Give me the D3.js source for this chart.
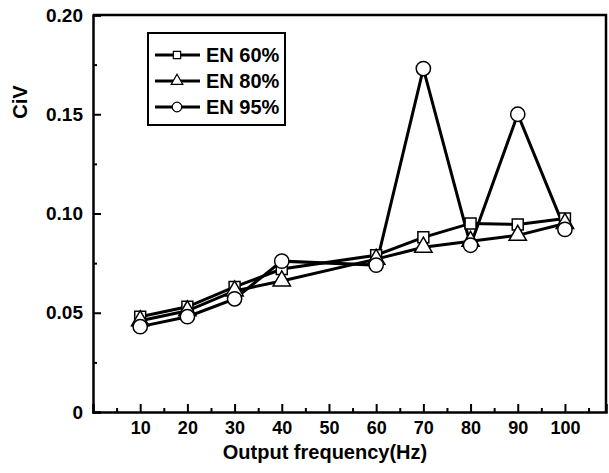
<!DOCTYPE html>
<html>
<head>
<meta charset="utf-8">
<script src="https://cdn.jsdelivr.net/npm/d3@7"></script>
<style>
  body { margin: 0; background: #fff; }
  svg text { font-family: "Liberation Sans", Arial, sans-serif; font-weight: bold; fill: #000; }
</style>
</head>
<body>
<svg class="chart" width="609" height="473"></svg>
<script>
var freqs = [10, 20, 30, 40, 60, 70, 80, 90, 100];
var en60 = [0.048, 0.053, 0.063, 0.072, 0.079, 0.088, 0.095, 0.0945, 0.0975];
var en80 = [0.046, 0.051, 0.061, 0.066, 0.077, 0.083, 0.086, 0.089, 0.095];
var en95 = [0.043, 0.048, 0.057, 0.076, 0.074, 0.173, 0.084, 0.150, 0.092];
var seriesNames = ["EN 60%", "EN 80%", "EN 95%"];
var xTicks = [10, 20, 30, 40, 50, 60, 70, 80, 90, 100];
var yTicks = [0, 0.05, 0.10, 0.15, 0.20];

var margin = {top: 15, right: 3, bottom: 61, left: 93};
var width = 609 - margin.left - margin.right;
var height = 473 - margin.top - margin.bottom;

var x = d3.scaleLinear().domain([0, 108.7]).range([0, width]);
var y = d3.scaleLinear().domain([0, 0.20]).range([height, 0]);

var chart = d3.select(".chart").append("g")
  .attr("transform", "translate(" + margin.left + "," + margin.top + ")");

// minor ticks
var minorX = d3.range(5, 108, 5).filter(function(d) { return d % 10 != 0; });
var minorY = [0.025, 0.075, 0.125, 0.175];

// x axis (ticks pointing inward)
var xAxis = chart.append("g")
  .attr("transform", "translate(0," + height + ")")
  .call(d3.axisBottom(x).tickValues(xTicks).tickSize(-8).tickPadding(9).tickFormat(d3.format("d")));
xAxis.selectAll(".tick text").style("font-size", "18px");
chart.append("g")
  .attr("transform", "translate(0," + height + ")")
  .call(d3.axisBottom(x).tickValues(minorX).tickSize(-4).tickFormat(""))
  .select(".domain").remove();

// y axis
var yAxis = chart.append("g")
  .call(d3.axisLeft(y).tickValues(yTicks).tickSize(-8).tickPadding(10)
    .tickFormat(function(d) { return d == 0 ? "0" : d3.format(".2f")(d); }));
yAxis.selectAll(".tick text").style("font-size", "19px");
chart.append("g")
  .call(d3.axisLeft(y).tickValues(minorY).tickSize(-4).tickFormat(""))
  .select(".domain").remove();

chart.selectAll(".domain").attr("stroke-width", 2.5);
chart.selectAll(".tick line").attr("stroke-width", 2);

// top and right frame
chart.append("path")
  .attr("d", "M0,0H" + width + "V" + height)
  .attr("fill", "none").attr("stroke", "#000").attr("stroke-width", 2.5);

// axis titles
chart.append("text")
  .attr("x", 232).attr("y", height + 47)
  .attr("text-anchor", "middle")
  .style("font-size", "20px")
  .text("Output frequency(Hz)");

chart.append("text")
  .attr("transform", "translate(-66,87) rotate(-90)")
  .attr("text-anchor", "middle")
  .style("font-size", "20px")
  .text("CiV");

var data = [en60, en80, en95];
var shapes = [d3.symbolSquare, d3.symbolTriangle, d3.symbolCircle];
var sizes = [120, 130, 160];

var line = d3.line()
  .x(function(d, i) { return x(freqs[i]); })
  .y(function(d) { return y(d); });

data.forEach(function(vals, s) {
  chart.append("path")
    .datum(vals)
    .attr("fill", "none")
    .attr("stroke", "#000")
    .attr("stroke-width", 3)
    .attr("d", line);
});

data.forEach(function(vals, s) {
  chart.selectAll(".pt" + s)
    .data(vals)
    .enter().append("path")
    .attr("class", "pt" + s)
    .attr("transform", function(d, i) { return "translate(" + x(freqs[i]) + "," + y(d) + ")"; })
    .attr("d", d3.symbol().type(shapes[s]).size(sizes[s]))
    .attr("fill", "#fff")
    .attr("stroke", "#000")
    .attr("stroke-width", 1.5);
});

// legend
var legend = chart.append("g").attr("transform", "translate(55,18)");
legend.append("rect")
  .attr("width", 137).attr("height", 92)
  .attr("fill", "#fff").attr("stroke", "#000").attr("stroke-width", 2);

seriesNames.forEach(function(name, s) {
  var row = legend.append("g").attr("transform", "translate(0," + (22 + s * 26) + ")");
  row.append("line")
    .attr("x1", 7).attr("x2", 52)
    .attr("stroke", "#000").attr("stroke-width", 3);
  row.append("path")
    .attr("transform", "translate(29,0)")
    .attr("d", d3.symbol().type(shapes[s]).size(sizes[s] * 0.45))
    .attr("fill", "#fff").attr("stroke", "#000").attr("stroke-width", 1.2);
  row.append("text")
    .attr("x", 58).attr("y", 7)
    .style("font-size", "20px")
    .text(name);
});
</script>
</body>
</html>
